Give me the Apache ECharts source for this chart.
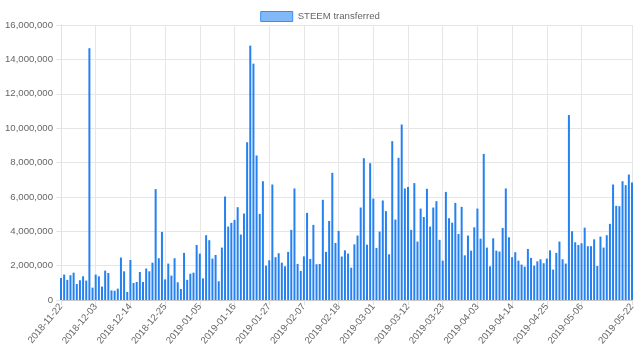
<!DOCTYPE html>
<html>
<head>
<meta charset="utf-8">
<script src="https://cdn.jsdelivr.net/npm/echarts@6/dist/echarts.min.js"></script>
<style>
html,body{margin:0;padding:0;background:#fff;}
#chart{width:640px;height:361px;}
</style>
</head>
<body>
<div id="chart"></div>
<script>
// Categories: consecutive days from 2018-11-22 to 2019-05-22
const startDate = '2018-11-22';
const dayCount = 182;
const categories = [];
(function(){
  const d0 = new Date(startDate + 'T00:00:00Z');
  for (let i = 0; i < dayCount; i++) {
    const d = new Date(d0.getTime() + i * 86400000);
    categories.push(d.toISOString().slice(0, 10));
  }
})();

const tickLabels = ['2018-11-22','2018-12-03','2018-12-14','2018-12-25','2019-01-05','2019-01-16',
  '2019-01-27','2019-02-07','2019-02-18','2019-03-01','2019-03-12','2019-03-23','2019-04-03',
  '2019-04-14','2019-04-25','2019-05-06','2019-05-22'];

const seriesName = 'STEEM transferred';
const steemTransferred = [
  1280000,1480000,1170000,1440000,1590000,930000,1150000,1380000,1130000,14650000,
  720000,1480000,1380000,780000,1710000,1570000,560000,540000,660000,2470000,
  1670000,470000,2330000,990000,1050000,1630000,1050000,1830000,1670000,2170000,
  6450000,2430000,3960000,1200000,2120000,1420000,2430000,1030000,640000,2740000,
  1170000,1530000,1590000,3200000,2700000,
  1260000,3770000,3480000,2410000,2620000,1090000,3050000,6020000,4270000,4490000,
  4660000,5400000,3810000,5030000,9180000,14800000,13750000,8410000,5010000,6910000,
  2000000,2310000,6720000,2490000,2720000,2170000,1960000,2800000,4080000,6490000,
  2100000,1690000,2540000,5070000,2390000,4370000,2080000,2100000,5830000,2800000,
  4600000,7400000,3320000,4020000,2530000,
  2890000,2700000,1880000,3240000,3750000,5380000,8250000,3220000,7960000,5900000,
  3030000,3980000,5790000,5170000,2660000,9240000,4680000,8270000,10210000,6490000,
  6580000,4080000,6800000,3400000,5320000,4830000,6470000,4270000,5380000,5750000,
  3500000,2290000,6290000,4760000,4500000,5650000,3840000,5420000,2600000,3750000,
  2870000,4230000,5320000,3570000,8500000,3050000,
  1960000,3590000,2870000,2820000,4190000,6490000,3650000,2490000,2780000,2290000,
  2060000,1940000,2970000,2450000,2000000,2250000,2370000,2140000,2410000,2890000,
  1770000,2740000,3400000,2370000,2120000,10760000,4000000,3360000,3200000,3300000,
  4210000,3130000,3130000,3530000,1980000,3690000,3050000,3770000,4430000,6720000,
  5480000,5460000,6910000,6680000,7300000,6830000
];

const yMin = 0, yMax = 16000000, yStep = 2000000;

const font = '"Liberation Sans", Arial, Helvetica, sans-serif';
const showTick = (i, v) => tickLabels.includes(v !== undefined ? v : categories[i]);

const chart = echarts.init(document.getElementById('chart'), null, {renderer: 'canvas'});
chart.setOption({
  animation: false,
  backgroundColor: '#ffffff',
  textStyle: {fontFamily: font},
  legend: {
    top: 6,
    left: 'center',
    itemWidth: 32,
    itemHeight: 10,
    textStyle: {fontSize: 9.6, color: '#666', fontFamily: font},
    data: [{name: seriesName, icon: 'rect',
      itemStyle: {color: '#80b8f8', borderColor: '#3a8ef0', borderWidth: 1}}]
  },
  grid: {left: 61, right: 8, top: 25, bottom: 61, containLabel: false},
  xAxis: {
    type: 'category',
    data: categories,
    boundaryGap: false,
    axisLine: {show: true, lineStyle: {color: '#c8c8c8'}},
    axisTick: {show: true, length: 5, interval: (i, v) => showTick(i, v), lineStyle: {color: '#e0e0e0'}},
    splitLine: {show: true, interval: (i, v) => showTick(i, v), lineStyle: {color: '#e6e6e6'}},
    axisLabel: {
      interval: (i, v) => showTick(i, v),
      rotate: 50,
      margin: 5,
      fontSize: 9.6,
      color: '#666',
      fontFamily: font
    }
  },
  yAxis: {
    type: 'value',
    min: yMin,
    max: yMax,
    interval: yStep,
    axisLine: {show: true, lineStyle: {color: '#e0e0e0'}},
    axisTick: {show: true, length: 5, lineStyle: {color: '#e6e6e6'}},
    splitLine: {show: true, lineStyle: {color: '#e6e6e6'}},
    axisLabel: {
      margin: 8,
      fontSize: 9.6,
      color: '#666',
      fontFamily: font,
      formatter: v => v.toLocaleString('en-US')
    }
  },
  series: [{
    name: seriesName,
    type: 'bar',
    data: steemTransferred,
    barWidth: 2,
    itemStyle: {color: '#2581f0'}
  }]
});
</script>
</body>
</html>
